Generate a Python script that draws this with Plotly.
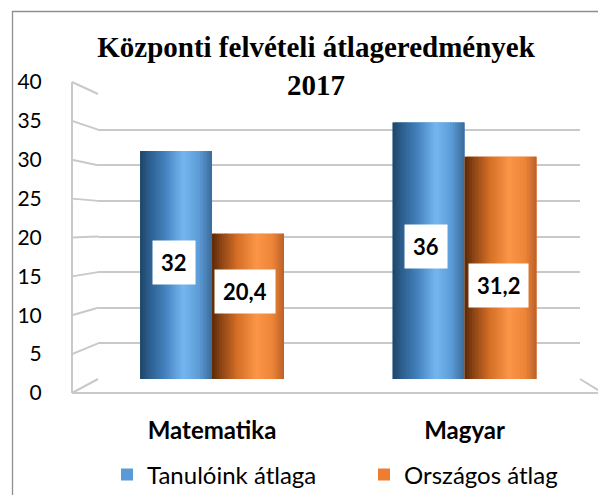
import plotly.graph_objects as go

# ---------------- data ----------------
categories = ["Matematika", "Magyar"]
series_names = ["Tanulóink átlaga", "Országos átlag"]
tanuloink = [32, 36]
orszagos = [20.4, 31.2]
y_ticks = [0, 5, 10, 15, 20, 25, 30, 35, 40]
title_lines = ["Központi felvételi átlageredmények", "2017"]

# ---------------- styles ----------------
W, H = 606, 495
OFF = 8                                 # page body margin
XL, XR, YT, YB = 72, 603, 82, 393       # front plane in screen px
PW, PH = XR - XL, YB - YT
back_x = [(98 - XL) / PW, (580 - XL) / PW]
back_y = [(YB - 379) / PH, (YB - 94) / PH]
x_range = [-0.4515, 1.457]
bar_w = 0.285
base_colors = ["#5b9bd5", "#ed7d31"]
grad_stops = [
    [(0.0, "#1f4366"), (0.12, "#2b5d8c"), (0.35, "#4482bf"), (0.6, "#76b6f0"),
     (0.82, "#5c9bd7"), (1.0, "#3a6a99")],
    [(0.0, "#5a2806"), (0.12, "#8a4314"), (0.35, "#d46f27"), (0.62, "#fb9547"),
     (0.84, "#ee8538"), (1.0, "#b9612a")],
]
label_yshift = [[3, 4], [15, -18]]
grid_col = "#c9c9c9"
n_strip = 30


def hex2rgb(h):
    h = h.lstrip("#")
    return tuple(int(h[i:i + 2], 16) for i in (0, 2, 4))


def grad(stops, t):
    for (t0, c0), (t1, c1) in zip(stops[:-1], stops[1:]):
        if t0 <= t <= t1:
            f = (t - t0) / (t1 - t0) if t1 > t0 else 0
            a, b = hex2rgb(c0), hex2rgb(c1)
            return "rgb(%d,%d,%d)" % tuple(round(a[k] + (b[k] - a[k]) * f) for k in range(3))
    return stops[-1][1]


fig = go.Figure()
series_vals = [tanuloink, orszagos]
offsets = [-bar_w, 0.0]

for s, (name, vals) in enumerate(zip(series_names, series_vals)):
    fig.add_trace(go.Bar(
        x=categories, y=vals, name=name, offset=offsets[s], width=bar_w,
        marker=dict(color=base_colors[s], line=dict(width=0)),
        legendgroup=name, hoverinfo="skip"))
    sw = bar_w / n_strip
    for i in range(n_strip):
        t = (i + 0.5) / n_strip
        fig.add_trace(go.Bar(
            x=categories, y=vals, offset=offsets[s] + i * sw,
            width=sw * (1.6 if i < n_strip - 1 else 1.0),
            marker=dict(color=grad(grad_stops[s], t), line=dict(width=0)),
            showlegend=False, legendgroup=name, hoverinfo="skip"))

# invisible trace carrying the front value axis
fig.add_trace(go.Scatter(x=[0] * len(y_ticks), y=y_ticks, xaxis="x2", yaxis="y2",
                         mode="markers", marker=dict(opacity=0), showlegend=False,
                         hoverinfo="skip"))

# data labels
for s, vals in enumerate(series_vals):
    for c, v in enumerate(vals):
        fig.add_annotation(
            x=c + offsets[s] + bar_w / 2 - 0.01, y=v / 2, xref="x", yref="y",
            text=f"{v:g}".replace(".", ","), showarrow=False,
            yshift=label_yshift[s][c],
            font=dict(family="Lato", size=22, color="black", weight="bold"),
            bgcolor="white", borderpad=8)

# 3-D wall/floor edges
shapes = []
ymax = y_ticks[-1]
for v in y_ticks:
    f = v / ymax
    shapes.append(dict(type="line", xref="paper", yref="paper", x0=0, y0=f,
                       x1=back_x[0], y1=back_y[0] + f * (back_y[1] - back_y[0]),
                       line=dict(color=grid_col, width=2), layer="below"))
shapes.append(dict(type="line", xref="paper", yref="paper", x0=0, y0=0, x1=1, y1=0,
                   line=dict(color=grid_col, width=2), layer="below"))
shapes.append(dict(type="line", xref="paper", yref="paper", x0=back_x[1], y0=back_y[0],
                   x1=1, y1=0, line=dict(color=grid_col, width=2), layer="below"))
# chart-area border (runs off the right/bottom edge)
shapes.append(dict(type="rect", xref="paper", yref="paper",
                   x0=(12.5 - XL) / PW, x1=(W + 60 - XL) / PW,
                   y0=(YB - (H + 60)) / PH, y1=(YB - 11.5) / PH,
                   line=dict(color="#8f8f8f", width=1.3), fillcolor="rgba(0,0,0,0)",
                   layer="below"))

fig.update_layout(
    width=W, height=H,
    margin=dict(l=XL - OFF, r=W - (XR - OFF), t=YT - OFF, b=H - (YB - OFF), pad=0,
                autoexpand=False),
    paper_bgcolor="white", plot_bgcolor="rgba(0,0,0,0)",
    barmode="overlay",
    shapes=shapes,
    title=dict(text="<b>" + "<br>".join(title_lines) + "</b>",
               font=dict(family="Liberation Serif", size=29, color="black"),
               x=(316 - OFF) / W, xanchor="center", xref="container",
               y=1 - 49 / H, yanchor="top", yref="container"),
    xaxis=dict(domain=back_x, range=x_range, type="category", showgrid=False,
               zeroline=False, showline=False, ticks="",
               tickfont=dict(family="Lato", size=24, color="black", weight="bold"),
               ticklabelstandoff=35),
    yaxis=dict(domain=back_y, range=[0, ymax], tickvals=y_ticks, showticklabels=False,
               showgrid=True, gridcolor=grid_col, gridwidth=2, zeroline=False,
               showline=False, ticks=""),
    xaxis2=dict(domain=[0, 1], anchor="y2", visible=False, range=[0, 1]),
    yaxis2=dict(domain=[0, 1], range=[0, ymax], tickvals=y_ticks, anchor="free",
                position=0, showgrid=False, zeroline=False, showline=True,
                linecolor=grid_col, linewidth=2, ticks="",
                tickfont=dict(family="Lato", size=21, color="black"),
                ticklabelstandoff=25),
    legend=dict(orientation="h", xref="container", x=99 / W, xanchor="left",
                yref="container", y=1 - 467 / H, yanchor="middle",
                font=dict(family="Lato", size=24, color="black"),
                entrywidth=212, entrywidthmode="pixels", itemclick=False),
)

fig.write_html("out.html")
